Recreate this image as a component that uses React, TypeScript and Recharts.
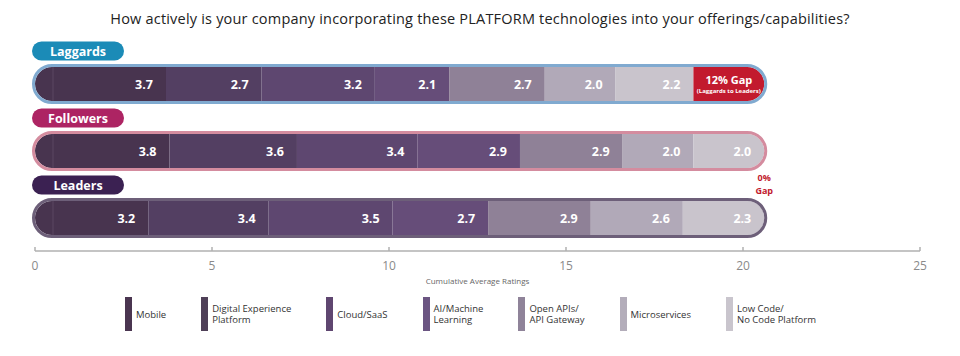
import { BarChart, Bar, XAxis, YAxis, Legend, LabelList, Rectangle } from 'recharts';

const groups = ['Laggards', 'Followers', 'Leaders'];
const mobile = [3.7, 3.8, 3.2];
const digitalExperience = [2.7, 3.6, 3.4];
const cloudSaas = [3.2, 3.4, 3.5];
const aiMl = [2.1, 2.9, 2.7];
const openApis = [2.7, 2.9, 2.9];
const microservices = [2.0, 2.0, 2.6];
const lowCode = [2.2, 2.0, 2.3];
const gap = [2.0, 0, 0];
const gapTitle = ['12% Gap', '0% Gap', ''];
const gapNote = ['(Laggards to Leaders)', '', ''];
const xTicks = [0, 5, 10, 15, 20, 25];

const series = [
  { key: 'mobile', name: 'Mobile', values: mobile },
  { key: 'dxp', name: 'Digital Experience\nPlatform', values: digitalExperience },
  { key: 'cloud', name: 'Cloud/SaaS', values: cloudSaas },
  { key: 'ai', name: 'AI/Machine\nLearning', values: aiMl },
  { key: 'api', name: 'Open APIs/\nAPI Gateway', values: openApis },
  { key: 'micro', name: 'Microservices', values: microservices },
  { key: 'lowcode', name: 'Low Code/\nNo Code Platform', values: lowCode },
];

const barColors = ['#48344f', '#533f62', '#5e4770', '#664d79', '#8f8197', '#b1a9b8', '#c9c4cc'];
const legendColors = ['#4a3550', '#4f4058', '#5f4670', '#6b5582', '#8f8399', '#b3adba', '#c9c5cd'];
const pillColors = ['#1b8bb7', '#ad2463', '#3b2152'];
const outlineColors = ['#80aad0', '#d48c9f', '#6d5f79'];
const gapColor = '#c21a2e';
const FONT = "'Open Sans', sans-serif";

const data = groups.map((name, i) => {
  const row: Record<string, number | string> = { name, gap: gap[i] };
  let total = gap[i];
  series.forEach((s) => {
    row[s.key] = s.values[i];
    total += s.values[i];
  });
  row.total = Math.round(total * 10) / 10;
  return row;
});

const R = 17;

const valueLabel = (p: any) => {
  const { x, y, width, height, value } = p;
  if (!value) return null;
  return (
    <text x={x + width - 13} y={y + height / 2} dy={4.5} textAnchor="end" fill="#fff"
      fontSize={12.5} fontWeight={700} fontFamily={FONT}>
      {Number(value).toFixed(1)}
    </text>
  );
};

const lowCodeLabel = (p: any) => {
  const { x, y, width, height, index } = p;
  const words = gapTitle[index] ? gapTitle[index].split(' ') : [];
  return (
    <g>
      {valueLabel(p)}
      {gap[index] === 0 && words.length ? (
        <g fill={gapColor} fontSize={9} fontWeight={700} fontFamily={FONT} textAnchor="middle">
          <text x={x + width} y={y + height + 13}>{words[0]}</text>
          <text x={x + width} y={y + height + 25.5}>{words[1]}</text>
        </g>
      ) : null}
    </g>
  );
};

const gapLabel = (p: any) => {
  const { x, y, width, height, index } = p;
  if (!gap[index]) return null;
  const cx = x + width / 2;
  const cy = y + height / 2;
  return (
    <g fill="#fff" fontFamily={FONT} fontWeight={700} textAnchor="middle">
      <text x={cx} y={cy} dy={0} fontSize={11}>{gapTitle[index]}</text>
      <text x={cx} y={cy} dy={9} fontSize={6}>{gapNote[index]}</text>
    </g>
  );
};

const MobileShape = (p: any) => (
  <g>
    <Rectangle {...p} radius={[R, 0, 0, R]} />
    <line x1={p.x + 18} x2={p.x + 18} y1={p.y} y2={p.y + p.height} stroke="#5a4763" strokeWidth={1} />
  </g>
);

const LowCodeShape = (p: any) => (
  <Rectangle {...p} radius={gap[p.index] > 0 ? 0 : [0, R, R, 0]} />
);

const OutlineShape = (p: any) => {
  const { x, y, width, height, index } = p;
  const h = height + 3;
  return (
    <rect x={x - 1.5} y={y - 1.5} width={width + 3} height={h} rx={h / 2} ry={h / 2}
      fill="none" stroke={outlineColors[index]} strokeWidth={3} />
  );
};

const PillTick = (p: any) => {
  const { y, payload } = p;
  const i = groups.indexOf(payload.value);
  return (
    <g>
      <rect x={32} y={y - 42} width={92} height={19} rx={9.5} ry={9.5} fill={pillColors[i]} />
      <text x={78} y={y - 32.5} dy={4.5} textAnchor="middle" fill="#fff" fontSize={12.5}
        fontWeight={700} fontFamily={FONT}>
        {payload.value}
      </text>
    </g>
  );
};

const AxisTick = (p: any) => {
  const { x, y, payload } = p;
  return (
    <g>
      <line x1={x} x2={x} y1={y - 4} y2={y} stroke="#b0b0b0" strokeWidth={1.5} />
      <text x={x} y={y + 19} textAnchor="middle" fill="#8a8a8a" fontSize={12} fontFamily={FONT}>
        {payload.value}
      </text>
    </g>
  );
};

const LegendContent = () => (
  <div style={{ height: 50, display: 'flex', paddingLeft: 125, fontFamily: FONT, fontSize: 9.5, color: '#333' }}>
    {series.map((s, i) => (
      <div key={s.key} style={{ display: 'flex', alignItems: 'center', marginRight: 35, height: 34, marginTop: 1 }}>
        <div style={{ width: 7, height: 34, background: legendColors[i], marginRight: 4 }} />
        <div style={{ whiteSpace: 'pre', lineHeight: '11px' }}>{s.name}</div>
      </div>
    ))}
  </div>
);

export default function App() {
  return (
    <div style={{ position: 'absolute', left: 0, top: 0, width: 960, height: 356, background: '#fff' }}>
      <BarChart width={960} height={356} data={data} layout="vertical"
        margin={{ top: 50, right: 40, left: 0, bottom: 10 }} barSize={34} barGap={-34}>
        <XAxis type="number" domain={[0, 25]} ticks={xTicks} height={45} tickSize={0} tickMargin={0}
          tickLine={false} axisLine={{ stroke: '#b0b0b0', strokeWidth: 1.5 }} tick={AxisTick}
          label={{ value: 'Cumulative Average Ratings', position: 'insideBottom', offset: 12, fontSize: 8, fill: '#666', fontFamily: FONT }} />
        <YAxis type="category" dataKey="name" width={35} tickLine={false} axisLine={false}
          interval={0} tick={PillTick} />
        <Legend verticalAlign="bottom" content={LegendContent} wrapperStyle={{ left: 0, width: 960 }} />
        {series.map((s, i) => (
          <Bar key={s.key} dataKey={s.key} name={s.name} stackId="s" fill={barColors[i]}
            isAnimationActive={false}
            shape={i === 0 ? MobileShape : i === series.length - 1 ? LowCodeShape : undefined}>
            <LabelList dataKey={s.key} content={i === series.length - 1 ? lowCodeLabel : valueLabel} />
          </Bar>
        ))}
        <Bar dataKey="gap" stackId="s" fill={gapColor} radius={[0, R, R, 0]} isAnimationActive={false}>
          <LabelList dataKey="gap" content={gapLabel} />
        </Bar>
        <Bar dataKey="total" stackId="o" fill="none" shape={OutlineShape} isAnimationActive={false} />
      </BarChart>
      <div style={{ position: 'absolute', top: 9, left: 0, width: 960, textAlign: 'center', fontFamily: FONT, fontSize: 14.5, letterSpacing: 0.2, color: '#222' }}>
        How actively is your company incorporating these PLATFORM technologies into your offerings/capabilities?
      </div>
    </div>
  );
}
